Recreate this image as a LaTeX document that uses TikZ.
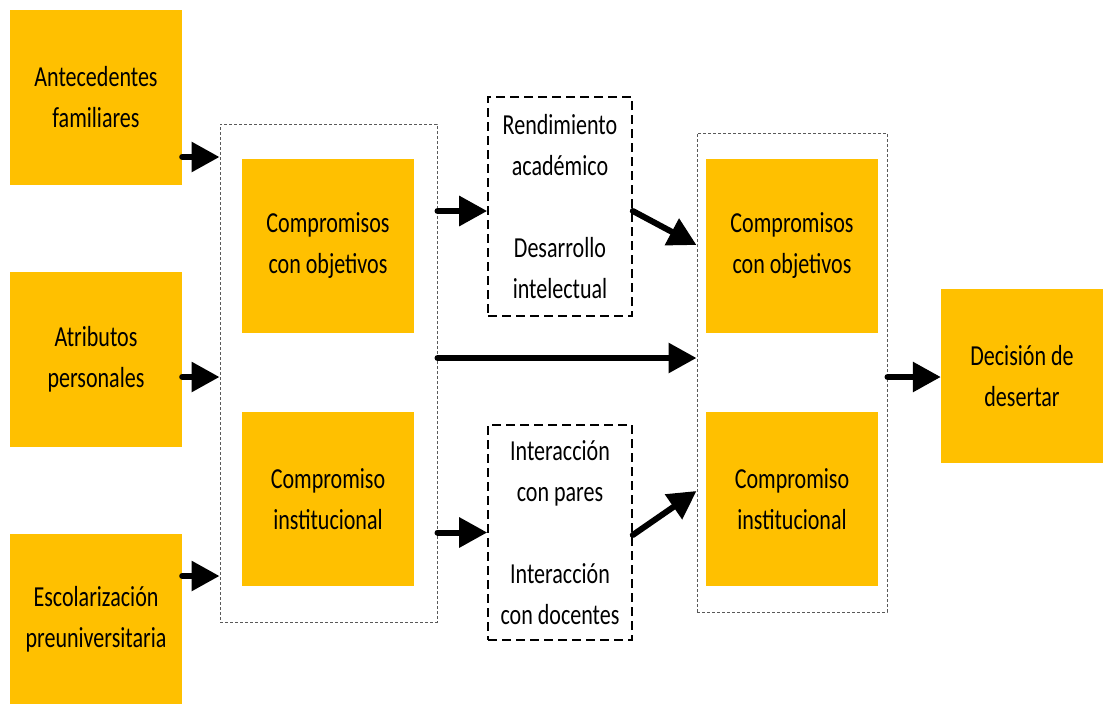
\documentclass[tikz,border=0pt]{standalone}
\usepackage{fontspec}
\setmainfont[FakeStretch=0.76]{Carlito}
\usetikzlibrary{arrows.meta}
\definecolor{gold}{HTML}{FFC000}
\begin{document}
\begin{tikzpicture}[x=1pt,y=-1pt,
  orangebox/.style={fill=gold, draw=none, inner sep=0pt, align=center, font=\fontsize{29}{41}\selectfont},
  groupbox/.style={draw=black!65, line width=1pt, dash pattern=on 3pt off 2pt, inner sep=0pt},
  dashbox/.style={draw=black, line width=1.6pt, dash pattern=on 9pt off 5pt, inner sep=0pt, align=center, font=\fontsize{29}{41}\selectfont},
  arr/.style={line width=6pt, line cap=round, -{Triangle[length=28pt,width=29pt]}}]
\useasboundingbox (0,0) rectangle (1104,704);

% left boxes
\node[orangebox, minimum width=172pt, minimum height=175pt] (ant) at (96,97.5) {Antecedentes\\familiares};
\node[orangebox, minimum width=172pt, minimum height=175pt] (atr) at (96,359.5) {Atributos\\personales};
\node[orangebox, minimum width=172pt, minimum height=170pt] (esc) at (96,619) {Escolarización\\preuniversitaria};

% group 1
\node[groupbox, minimum width=217pt, minimum height=498pt] (g1) at (328.5,373) {};
\node[orangebox, minimum width=172pt, minimum height=174pt] (c1) at (328,246) {Compromisos\\con objetivos};
\node[orangebox, minimum width=172pt, minimum height=174pt] (i1) at (328,499) {Compromiso\\institucional};

% dashed boxes
\node[dashbox, minimum width=144pt, minimum height=219pt] (r1) at (560,206.5) {Rendimiento\\académico\\[41pt]Desarrollo\\intelectual};
\node[dashbox, minimum width=144pt, minimum height=215pt] (r2) at (560,532.5) {Interacción\\con pares\\[41pt]Interacción\\con docentes};

% group 2
\node[groupbox, minimum width=190pt, minimum height=479pt] (g2) at (792,372.5) {};
\node[orangebox, minimum width=172pt, minimum height=174pt] (c2) at (792,246) {Compromisos\\con objetivos};
\node[orangebox, minimum width=172pt, minimum height=174pt] (i2) at (792,499) {Compromiso\\institucional};

% decision
\node[orangebox, minimum width=162pt, minimum height=174pt] (dec) at (1022,376) {Decisión de\\desertar};

% arrow start coordinates
\coordinate (s1) at ([yshift=-59.5pt]ant.east);
\coordinate (s2) at ([yshift=-17.5pt]atr.east);
\coordinate (s3) at ([yshift=43pt]esc.east);
\coordinate (s4) at ([yshift=-4.5pt]r1.west);
\coordinate (s5) at ([yshift=15pt]g1.east);
\coordinate (s6) at (r2.west);

\draw[arr] (s1) -- (s1 -| g1.west);
\draw[arr] (s2) -- (s2 -| g1.west);
\draw[arr] (s3) -- (s3 -| g1.west);
\draw[arr] (s4 -| g1.east) -- (s4);
\draw[arr] (s6 -| g1.east) -- (s6);
\draw[arr] (s5) -- (s5 -| g2.west);
\draw[arr] ([yshift=-4.5pt]r1.east) -- ([yshift=127.5pt]g2.west);
\draw[arr] ([yshift=-2.5pt]r2.east) -- ([yshift=-118.5pt]g2.west);
\draw[arr] ([yshift=-4.5pt]g2.east) -- ([yshift=-4.5pt]g2.east -| dec.west);
\end{tikzpicture}
\end{document}
